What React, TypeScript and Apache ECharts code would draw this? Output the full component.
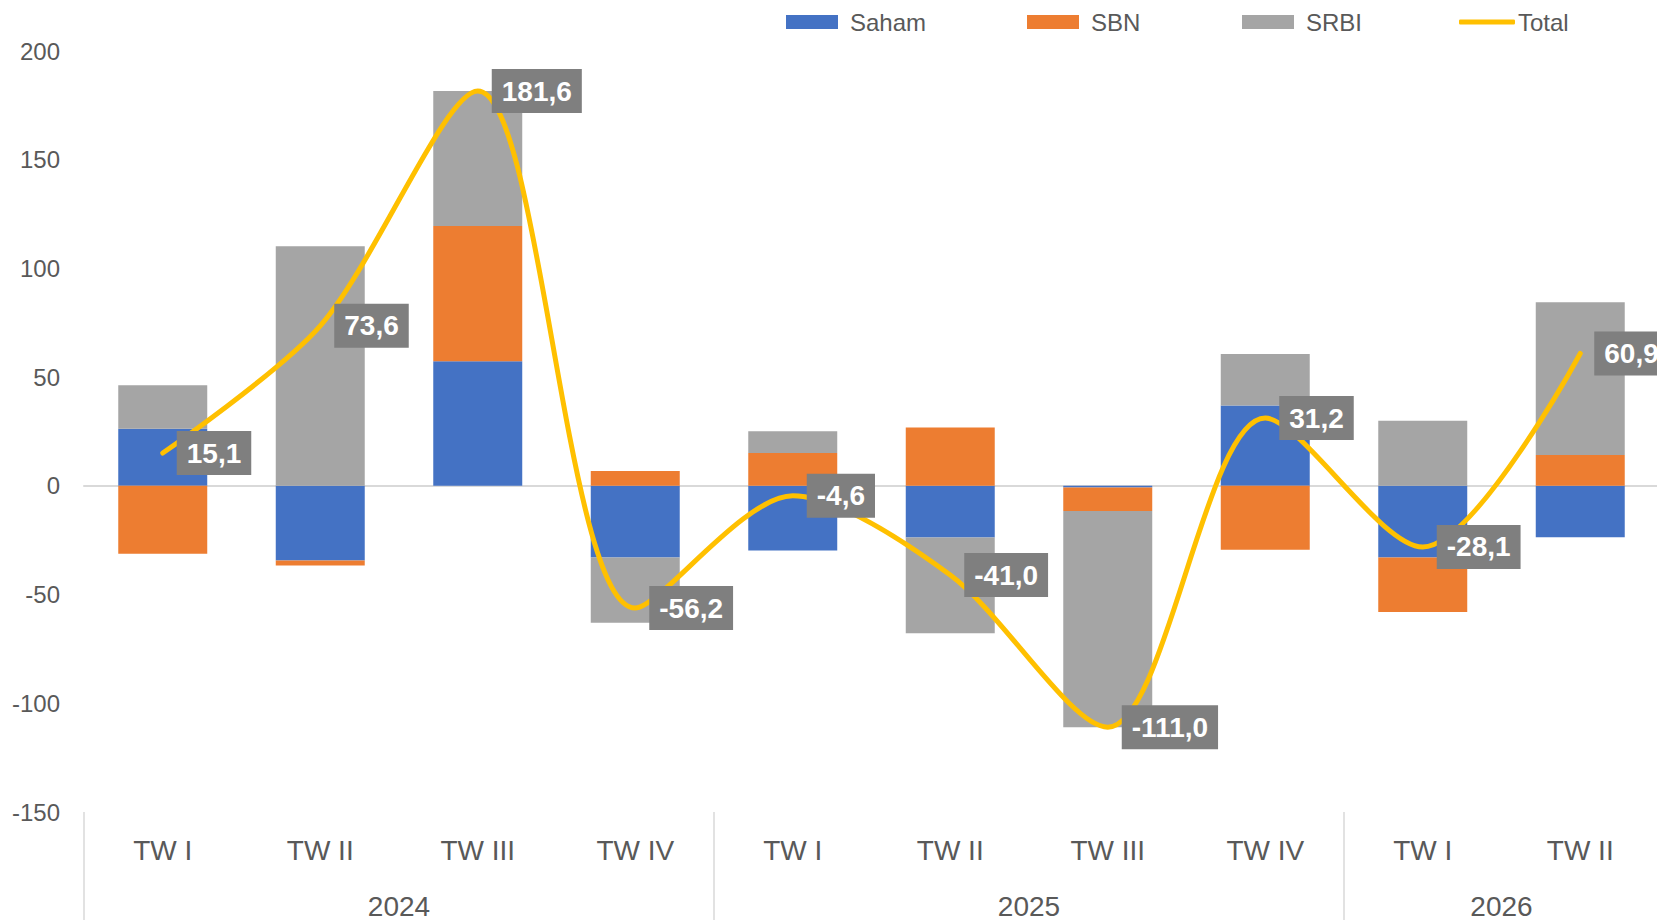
import React, { useEffect, useRef } from 'react';
import * as echarts from 'echarts';

const quarters = ['TW I', 'TW II', 'TW III', 'TW IV', 'TW I', 'TW II', 'TW III', 'TW IV', 'TW I', 'TW II'];
const years = ['2024', '2025', '2026'];
const quartersPerYear = [4, 4, 2];
const saham = [26.3, -34.3, 57.3, -32.9, -29.7, -23.7, -0.7, 37.0, -32.9, -23.6];
const sbn = [-31.2, -2.3, 62.2, 6.8, 15.1, 26.8, -10.9, -29.4, -25.1, 14.2];
const srbi = [20.0, 110.2, 62.1, -30.1, 10.0, -44.1, -99.4, 23.6, 29.9, 70.3];
const total = [15.1, 73.6, 181.6, -56.2, -4.6, -41.0, -111.0, 31.2, -28.1, 60.9];
const yMin = -150;
const yMax = 200;
const yInterval = 50;

const FONT = "'Liberation Sans', Arial, sans-serif";
const TEXT = '#595959';

export default function App() {
  const ref = useRef<HTMLDivElement>(null);

  useEffect(() => {
    document.body.style.margin = '0';
    if (!ref.current) return;
    const chart = echarts.init(ref.current, undefined, { renderer: 'svg' });

    // year axis: 2 slots per quarter + 1, boundaryGap false
    const yearSlots: string[] = new Array(quarters.length * 2 + 1).fill('');
    const yearBoundaries: number[] = [];
    let start = 0;
    years.forEach((y, i) => {
      yearBoundaries.push(start * 2);
      yearSlots[start * 2 + quartersPerYear[i]] = y;
      start += quartersPerYear[i];
    });

    const legendBase = {
      top: 8,
      padding: 0,
      itemHeight: 14,
      itemWidth: 52,
      icon: 'rect',
      textStyle: { fontSize: 24, color: TEXT, fontFamily: FONT, lineHeight: 28, padding: [0, 0, 0, 7] },
    };

    const option: any = {
      animation: false,
      textStyle: { fontFamily: FONT },
      legend: [
        { ...legendBase, data: ['Saham'], left: 786 },
        { ...legendBase, data: ['SBN'], left: 1027 },
        { ...legendBase, data: ['SRBI'], left: 1242 },
        {
          ...legendBase,
          data: ['Total'],
          left: 1459,
          icon: 'roundRect',
          itemWidth: 56,
          itemHeight: 5,
          itemStyle: { color: '#FFC000' },
          textStyle: { fontSize: 24, color: TEXT, fontFamily: FONT, lineHeight: 28, padding: [0, 0, 0, -2] },
        },
      ],
      grid: { left: 84, top: 51, width: 1575, height: 761, containLabel: false },
      xAxis: [
        {
          type: 'category',
          data: quarters,
          position: 'bottom',
          axisLine: { show: false, onZero: false },
          axisTick: { show: false },
          axisLabel: { interval: 0, margin: 24, fontSize: 28, color: TEXT, fontFamily: FONT },
        },
        {
          type: 'category',
          data: yearSlots,
          boundaryGap: false,
          position: 'bottom',
          axisLine: { show: false, onZero: false },
          axisTick: {
            show: true,
            interval: (i: number) => yearBoundaries.includes(i),
            length: 110,
            lineStyle: { color: '#D9D9D9', width: 1.5 },
          },
          axisLabel: { interval: 0, margin: 80, fontSize: 28, color: TEXT, fontFamily: FONT },
        },
        {
          type: 'category',
          data: quarters,
          position: 'bottom',
          axisLine: { show: true, onZero: true, lineStyle: { color: '#D9D9D9', width: 2 } },
          axisTick: { show: false },
          axisLabel: { show: false },
        },
      ],
      yAxis: {
        type: 'value',
        min: yMin,
        max: yMax,
        interval: yInterval,
        axisLine: { show: false },
        axisTick: { show: false },
        splitLine: { show: false },
        axisLabel: { margin: 24, fontSize: 24, color: TEXT, fontFamily: FONT },
      },
      series: [
        { name: 'Saham', type: 'bar', stack: 'a', data: saham, barWidth: '56.5%', itemStyle: { color: '#4472C4' } },
        { name: 'SBN', type: 'bar', stack: 'a', data: sbn, barWidth: '56.5%', itemStyle: { color: '#ED7D31' } },
        { name: 'SRBI', type: 'bar', stack: 'a', data: srbi, barWidth: '56.5%', itemStyle: { color: '#A5A5A5' } },
        {
          name: 'Total',
          type: 'line',
          data: total,
          smooth: 0.3,
          symbol: 'circle',
          symbolSize: 2,
          showSymbol: true,
          z: 5,
          itemStyle: { color: '#FFC000' },
          lineStyle: { color: '#FFC000', width: 5, cap: 'round' },
          label: {
            show: true,
            position: 'right',
            distance: 13,
            formatter: (p: any) => Number(p.value).toFixed(1).replace('.', ','),
            color: '#FFFFFF',
            fontWeight: 'bold',
            fontSize: 28,
            lineHeight: 28,
            fontFamily: FONT,
            backgroundColor: '#7F7F7F',
            padding: [8, 10],
          },
        },
      ],
    };

    chart.setOption(option);
    return () => chart.dispose();
  }, []);

  return (
    <div style={{ width: 1657, height: 920, overflow: 'hidden', position: 'relative' }}>
      <div ref={ref} style={{ width: 1720, height: 920 }} />
    </div>
  );
}
